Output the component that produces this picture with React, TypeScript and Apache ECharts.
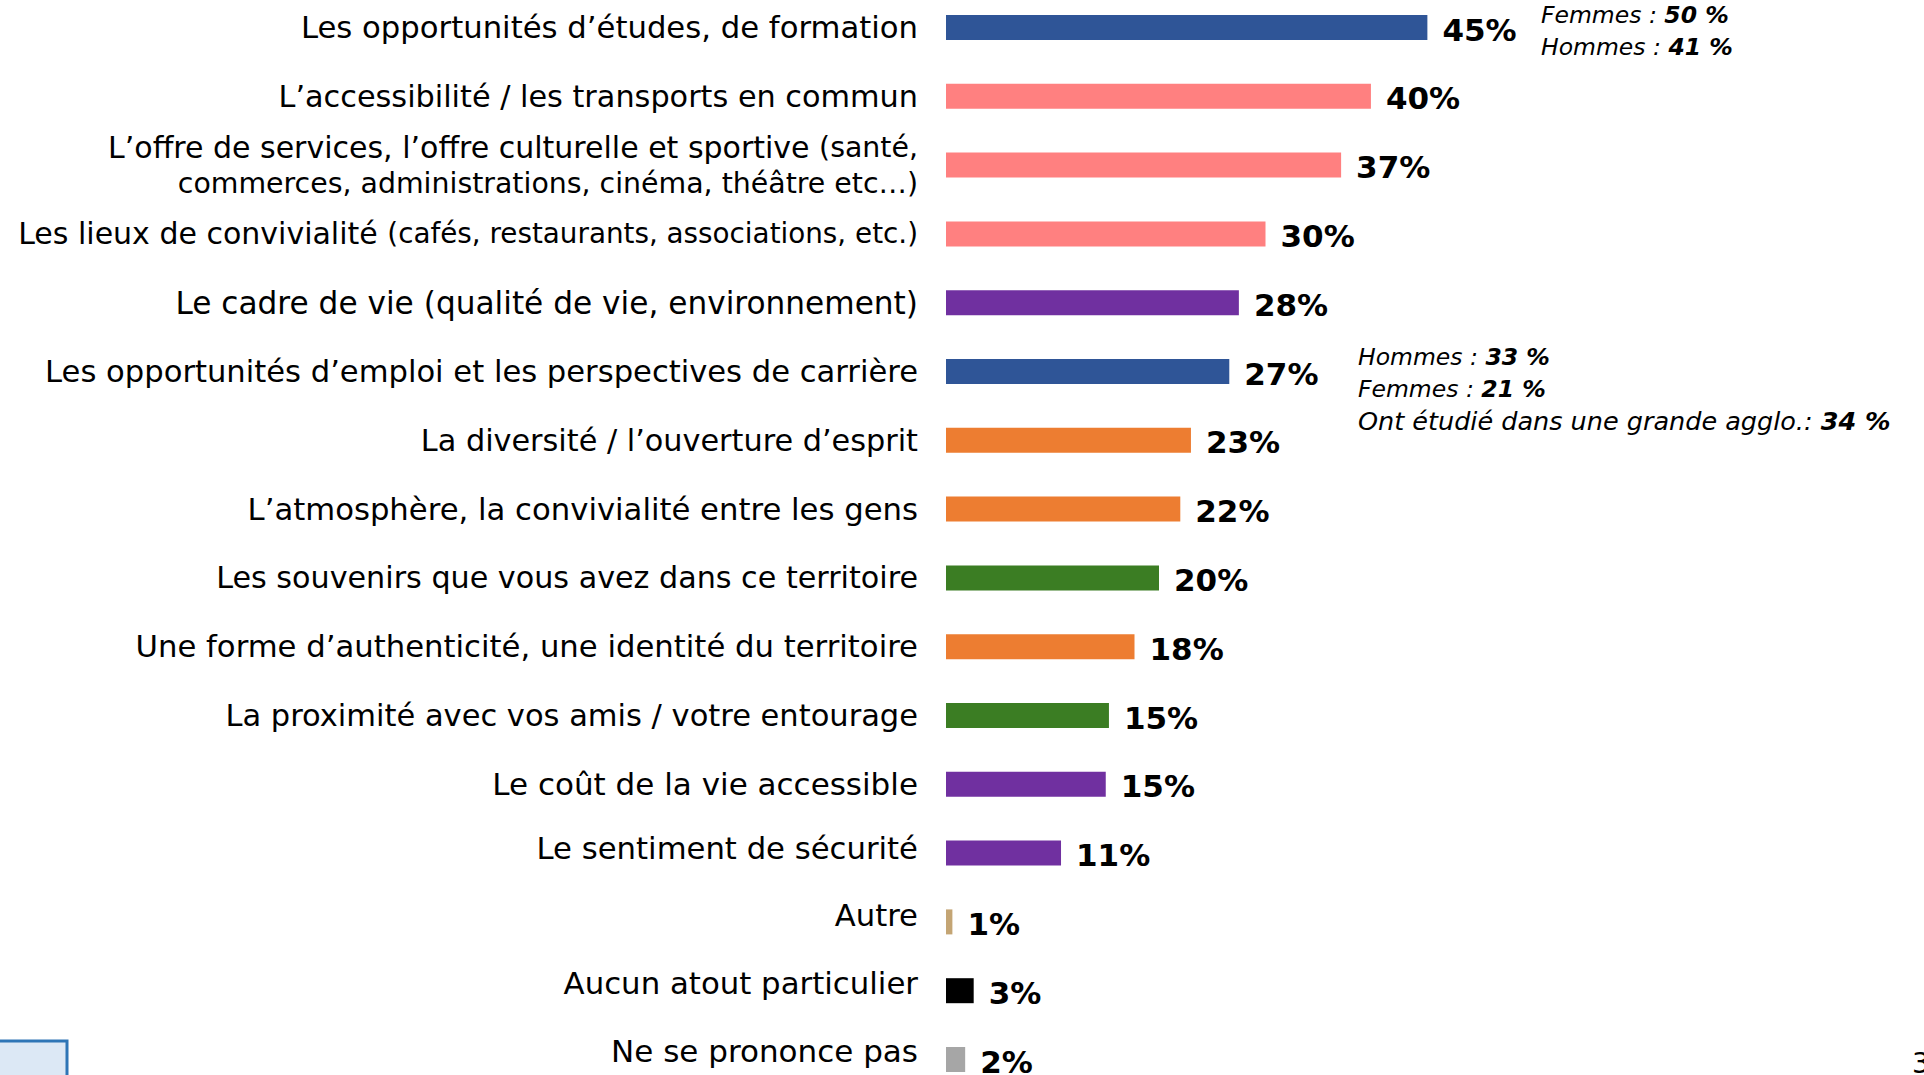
import React, { useEffect, useRef } from "react";
import * as echarts from "echarts";

const categories: string[] = [
  "Les opportunités d’études, de formation",
  "L’accessibilité / les transports en commun",
  "L’offre de services, l’offre culturelle et sportive (santé,\ncommerces, administrations, cinéma, théâtre etc…)",
  "Les lieux de convivialité (cafés, restaurants, associations, etc.)",
  "Le cadre de vie (qualité de vie, environnement)",
  "Les opportunités d’emploi et les perspectives de carrière",
  "La diversité / l’ouverture d’esprit",
  "L’atmosphère, la convivialité entre les gens",
  "Les souvenirs que vous avez dans ce territoire",
  "Une forme d’authenticité, une identité du territoire",
  "La proximité avec vos amis / votre entourage",
  "Le coût de la vie accessible",
  "Le sentiment de sécurité",
  "Autre",
  "Aucun atout particulier",
  "Ne se prononce pas",
];

// unrounded shares; labels show rounded values
const values: number[] = [45.2, 39.9, 37.1, 30, 27.5, 26.6, 23, 22, 20, 17.7, 15.3, 15, 10.8, 0.6, 2.6, 1.8];

const groups: string[] = [
  "formation", "acces", "acces", "acces", "vie", "formation", "esprit", "esprit",
  "liens", "esprit", "liens", "vie", "vie", "autre", "aucun", "nsp",
];

// indices whose parenthetical part is set in a smaller size
const smallParenthesis: number[] = [2, 3];

const noteTop: [string, string][] = [
  ["Femmes : ", "50 %"],
  ["Hommes : ", "41 %"],
];
const noteMid: [string, string][] = [
  ["Hommes : ", "33 %"],
  ["Femmes : ", "21 %"],
  ["Ont étudié dans une grande agglo.: ", "34 %"],
];

const groupColors: Record<string, string> = {
  formation: "#2f5597",
  acces: "#ff8080",
  vie: "#7030a0",
  esprit: "#ed7d31",
  liens: "#3b7d23",
  autre: "#c4a574",
  aucun: "#000000",
  nsp: "#a6a6a6",
};

// label styling per row: main font size and upward lift (px)
const labelSize: number[] = [30.7, 30.3, 30, 30, 31.2, 30.6, 30.3, 30.7, 30.2, 30.7, 30.5, 31, 30.7, 30.7, 30.8, 31];
const labelLift: number[] = [0, 0, 0, 0, 0, 0, 0, 0, 0, 0, 0, 0, 5, 6, 8, 9];

const FONT = "'DejaVu Sans', sans-serif";

export default function App() {
  const ref = useRef<HTMLDivElement>(null);

  useEffect(() => {
    if (!ref.current) return;
    const chart = echarts.init(ref.current, undefined, { renderer: "svg" });

    const noteText = (lines: [string, string][], x: number, y0: number, step: number, sizes: number[]) =>
      lines.map((l, i) => ({
        type: "text",
        x,
        y: y0 + i * step,
        style: {
          text: `{i|${l[0]}}{b|${l[1]}}`,
          verticalAlign: "middle",
          rich: {
            i: { fontFamily: FONT, fontStyle: "italic", fontSize: sizes[i], fill: "#000" },
            b: { fontFamily: FONT, fontStyle: "italic", fontWeight: "bold", fontSize: sizes[i], fill: "#000" },
          },
        },
      }));

    const rich: Record<string, any> = {
      s: { fontFamily: FONT, fontSize: 28.4, color: "#000", lineHeight: 36 },
      s2: { fontFamily: FONT, fontSize: 27.8, color: "#000", lineHeight: 36 },
    };
    categories.forEach((_, i) => {
      rich["m" + i] = {
        fontFamily: FONT,
        fontSize: labelSize[i],
        color: "#000",
        lineHeight: 36,
        padding: [0, 0, labelLift[i] * 2, 0],
      };
    });

    chart.setOption({
      animation: false,
      backgroundColor: "#ffffff",
      grid: { left: 946, top: -6.9, width: 958.5, height: 1100.8, outerBoundsMode: "none", containLabel: false },
      xAxis: {
        type: "value",
        min: 0,
        max: 90,
        show: false,
      },
      yAxis: {
        type: "category",
        inverse: true,
        data: categories,
        axisLine: { show: false },
        axisTick: { show: false },
        splitLine: { show: false },
        axisLabel: {
          margin: 28,
          fontFamily: FONT,
          fontSize: 30.7,
          color: "#000",
          formatter: (v: string, idx: number) => {
            if (smallParenthesis.indexOf(idx) >= 0) {
              const p = v.indexOf("(");
              const main = v.slice(0, p);
              const small = v.slice(p).split("\n");
              const sk = small.length > 1 ? "s" : "s2";
              return `{m${idx}|${main}}{${sk}|${small[0]}}` + small.slice(1).map((s) => `\n{${sk}|${s}}`).join("");
            }
            return `{m${idx}|${v}}`;
          },
          rich,
        },
      },
      series: [
        {
          type: "bar",
          barWidth: 25,
          data: values.map((v, i) => ({ value: v, itemStyle: { color: groupColors[groups[i]] } })),
          label: {
            show: true,
            position: "right",
            distance: 15,
            offset: [0, 2],
            fontFamily: FONT,
            fontWeight: "bold",
            fontSize: 31,
            color: "#000",
            formatter: (p: any) => `${Math.round(p.value)}%`,
          },
        },
      ],
      graphic: [
        ...noteText(noteTop, 1541, 15, 32, [23.5, 23.5]),
        ...noteText(noteMid, 1358, 357, 32, [23.5, 23.5, 25.5]),
        {
          type: "rect",
          shape: { x: -3, y: 1041, width: 70, height: 60 },
          style: { fill: "#dce8f5", stroke: "#2e75b6", lineWidth: 3 },
        },
        {
          type: "text",
          x: 1912,
          y: 1049,
          style: { text: "3", fontFamily: FONT, fontSize: 28, fill: "#000" },
        },
      ],
    });

    return () => chart.dispose();
  }, []);

  return (
    <div
      ref={ref}
      style={{ position: "fixed", left: 0, top: 0, width: 1924, height: 1075, background: "#fff" }}
    />
  );
}
